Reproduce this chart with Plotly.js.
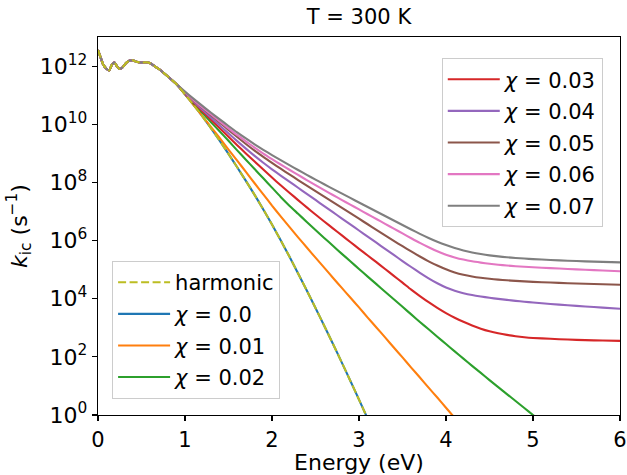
<!DOCTYPE html>
<html>
<head>
<meta charset="utf-8">
<script src="https://cdn.plot.ly/plotly-3.0.1.min.js"></script>
<style>html,body{margin:0;padding:0;background:#fff;}#chart{width:627px;height:475px;}</style>
</head>
<body>
<div id="chart"></div>
<script>
// ---- data (log10 of k_ic) ----
const xEarly = [0.00, 0.03, 0.06, 0.10, 0.13, 0.16, 0.19, 0.22, 0.25, 0.28, 0.32, 0.36, 0.40, 0.44, 0.50, 0.55, 0.60, 0.65, 0.70, 0.80, 0.90];
const logEarly = [12.55, 12.30, 12.05, 11.90, 11.85, 12.05, 12.12, 11.98, 11.90, 11.95, 12.10, 12.18, 12.20, 12.15, 12.12, 12.13, 12.10, 12.00, 11.90, 11.65, 11.38];

const xMain = [1.0, 1.1, 1.2, 1.3, 1.4, 1.5, 1.6, 1.7, 1.8, 1.9,
               2.0, 2.1, 2.2, 2.3, 2.4, 2.5, 2.6, 2.7, 2.8, 2.9,
               3.0, 3.1, 3.2, 3.3, 3.4, 3.5, 3.6, 3.7, 3.8, 3.9,
               4.0, 4.1, 4.2, 4.3, 4.4, 4.5, 4.6, 4.7, 4.8, 4.9,
               5.0, 5.2, 5.4, 5.6, 5.8, 6.0];

const logHarmonic = [11.03, 10.66, 10.27, 9.86, 9.43, 8.98, 8.52, 8.05, 7.57, 7.07,
                     6.55, 6.01, 5.45, 4.87, 4.28, 3.68, 3.07, 2.45, 1.82, 1.18,
                     0.53, -0.13];
const logChi000 = [11.03, 10.66, 10.27, 9.86, 9.43, 8.98, 8.52, 8.05, 7.57, 7.07,
                   6.55, 6.01, 5.45, 4.87, 4.28, 3.68, 3.07, 2.45, 1.82, 1.18,
                   0.53, -0.13];
const logChi001 = [11.03, 10.66, 10.28, 9.90, 9.52, 9.13, 8.75, 8.36, 7.97, 7.59,
                   7.20, 6.83, 6.47, 6.11, 5.76, 5.41, 5.07, 4.72, 4.38, 4.04,
                   3.70, 3.35, 3.01, 2.67, 2.32, 1.98, 1.63, 1.29, 0.94, 0.60,
                   0.25, -0.10];
const logChi002 = [11.04, 10.71, 10.39, 10.07, 9.75, 9.43, 9.10, 8.78, 8.46, 8.14,
                   7.82, 7.50, 7.20, 6.92, 6.64, 6.36, 6.09, 5.82, 5.55, 5.29,
                   5.02, 4.76, 4.50, 4.24, 3.98, 3.72, 3.46, 3.20, 2.95, 2.69,
                   2.44, 2.19, 1.94, 1.69, 1.45, 1.20, 0.96, 0.72, 0.48, 0.24,
                   0.00, -0.48];
const logChi003 = [11.05, 10.75, 10.45, 10.155, 9.86, 9.57, 9.28, 8.995, 8.715, 8.44,
                   8.165, 7.90, 7.645, 7.39, 7.14, 6.895, 6.655, 6.42, 6.185, 5.95,
                   5.715, 5.485, 5.255, 5.02, 4.785, 4.55, 4.31, 4.09, 3.88, 3.685,
                   3.505, 3.345, 3.205, 3.08, 2.97, 2.88, 2.81, 2.755, 2.71, 2.675,
                   2.65, 2.62, 2.595, 2.575, 2.56, 2.55];
const logChi004 = [11.06, 10.78, 10.50, 10.225, 9.955, 9.685, 9.42, 9.16, 8.91, 8.675,
                   8.45, 8.235, 8.025, 7.815, 7.605, 7.395, 7.185, 6.975, 6.765, 6.555,
                   6.345, 6.135, 5.925, 5.715, 5.505, 5.295, 5.09, 4.89, 4.70, 4.53,
                   4.385, 4.275, 4.19, 4.125, 4.075, 4.032, 3.993, 3.958, 3.926, 3.897,
                   3.87, 3.82, 3.775, 3.733, 3.693, 3.655];
const logChi005 = [11.08, 10.82, 10.56, 10.305, 10.055, 9.805, 9.56, 9.32, 9.09, 8.875,
                   8.67, 8.47, 8.275, 8.08, 7.89, 7.70, 7.51, 7.32, 7.13, 6.94,
                   6.75, 6.56, 6.37, 6.18, 5.99, 5.805, 5.625, 5.45, 5.285, 5.14,
                   5.01, 4.905, 4.825, 4.765, 4.72, 4.685, 4.657, 4.633, 4.612, 4.595,
                   4.58, 4.555, 4.533, 4.513, 4.495, 4.478];
const logChi006 = [11.10, 10.83, 10.58, 10.335, 10.095, 9.86, 9.63, 9.41, 9.195, 8.99,
                   8.80, 8.615, 8.435, 8.255, 8.08, 7.905, 7.735, 7.565, 7.40, 7.235,
                   7.07, 6.905, 6.74, 6.575, 6.41, 6.245, 6.08, 5.92, 5.77, 5.63,
                   5.51, 5.42, 5.345, 5.285, 5.24, 5.20, 5.168, 5.14, 5.117, 5.097,
                   5.08, 5.05, 5.022, 4.995, 4.97, 4.945];
const logChi007 = [11.12, 10.87, 10.63, 10.395, 10.165, 9.94, 9.72, 9.51, 9.31, 9.12,
                   8.94, 8.765, 8.595, 8.425, 8.26, 8.095, 7.935, 7.775, 7.62, 7.465,
                   7.31, 7.155, 7.00, 6.845, 6.69, 6.535, 6.38, 6.23, 6.09, 5.96,
                   5.845, 5.745, 5.66, 5.59, 5.535, 5.49, 5.455, 5.425, 5.40, 5.38,
                   5.362, 5.33, 5.305, 5.285, 5.265, 5.25];

const seriesNames = ['harmonic', '<i>χ</i> = 0.0', '<i>χ</i> = 0.01', '<i>χ</i> = 0.02',
                     '<i>χ</i> = 0.03', '<i>χ</i> = 0.04', '<i>χ</i> = 0.05', '<i>χ</i> = 0.06', '<i>χ</i> = 0.07'];
const yTickExp = [0, 2, 4, 6, 8, 10, 12];
const xTicks = [0, 1, 2, 3, 4, 5, 6];

// ---- build traces ----
const FONT = 'DejaVu Sans, Arial, sans-serif';
function mk(logs, name, color, legend, rank, dash) {
  const n = logs.length;
  const xs = xEarly.concat(xMain.slice(0, n));
  const ys = logEarly.concat(logs).map(v => Math.pow(10, v));
  return {
    x: xs, y: ys, type: 'scatter', mode: 'lines', name: name,
    line: {color: color, width: 2.1, dash: dash || 'solid', shape: 'spline', smoothing: 0.6},
    legend: legend, legendrank: rank, legendgroup: 'g' + rank + legend, hoverinfo: 'skip'
  };
}
const traces = [
  mk(logChi000, seriesNames[1], '#1f77b4', 'legend', 2),
  mk(logChi001, seriesNames[2], '#ff7f0e', 'legend', 3),
  mk(logChi002, seriesNames[3], '#2ca02c', 'legend', 4),
  mk(logChi003, seriesNames[4], '#d62728', 'legend2', 1),
  mk(logChi004, seriesNames[5], '#9467bd', 'legend2', 2),
  mk(logChi005, seriesNames[6], '#8c564b', 'legend2', 3),
  mk(logChi006, seriesNames[7], '#e377c2', 'legend2', 4),
  mk(logChi007, seriesNames[8], '#7f7f7f', 'legend2', 5),
  mk(logHarmonic, seriesNames[0], '#bcbd22', 'legend', 1, '8px,3.5px')
];

const legendCommon = {
  bgcolor: 'rgba(255,255,255,0.85)', bordercolor: '#cccccc', borderwidth: 1,
  font: {family: FONT, size: 21, color: '#000'}, traceorder: 'grouped', tracegroupgap: 1.3,
  itemwidth: 52
};

const layout = {
  width: 627, height: 475,
  margin: {l: 98, r: 7, t: 37, b: 60},
  paper_bgcolor: '#fff', plot_bgcolor: '#fff',
  font: {family: FONT, size: 21, color: '#000'},
  title: {text: 'T = 300 K', x: 0.5, xref: 'paper', y: 0.964, yref: 'container', yanchor: 'middle',
          font: {family: FONT, size: 21, color: '#000'}},
  showlegend: true,
  legend: Object.assign({x: 0.027, y: 0.042, xanchor: 'left', yanchor: 'bottom'}, legendCommon),
  legend2: Object.assign({x: 0.967, y: 0.944, xanchor: 'right', yanchor: 'top'}, legendCommon),
  xaxis: {
    range: [0, 6], tickmode: 'array', tickvals: xTicks, ticktext: xTicks.map(String),
    showgrid: false, zeroline: false, showline: true, linecolor: '#000', linewidth: 1.3, mirror: true,
    ticks: 'outside', ticklen: 5, tickwidth: 1.1, tickcolor: '#000',
    tickfont: {family: FONT, size: 21, color: '#000'},
    title: {text: 'Energy (eV)', font: {family: FONT, size: 22, color: '#000'}, standoff: 3}
  },
  yaxis: {
    type: 'log', range: [0, 13],
    tickmode: 'array', tickvals: yTickExp.map(e => Math.pow(10, e)),
    ticktext: yTickExp.map(e => '10<sup>' + e + '</sup>'),
    showgrid: false, zeroline: false, showline: true, linecolor: '#000', linewidth: 1.3, mirror: true,
    ticks: 'outside', ticklen: 5, tickwidth: 1.1, tickcolor: '#000',
    tickfont: {family: FONT, size: 22, color: '#000'},
    title: {text: '<i>k</i><sub>ic</sub> (s<sup>−1</sup>)', font: {family: FONT, size: 22, color: '#000'}, standoff: 6}
  }
};

Plotly.newPlot('chart', traces, layout, {staticPlot: true, displayModeBar: false});
</script>
</body>
</html>
